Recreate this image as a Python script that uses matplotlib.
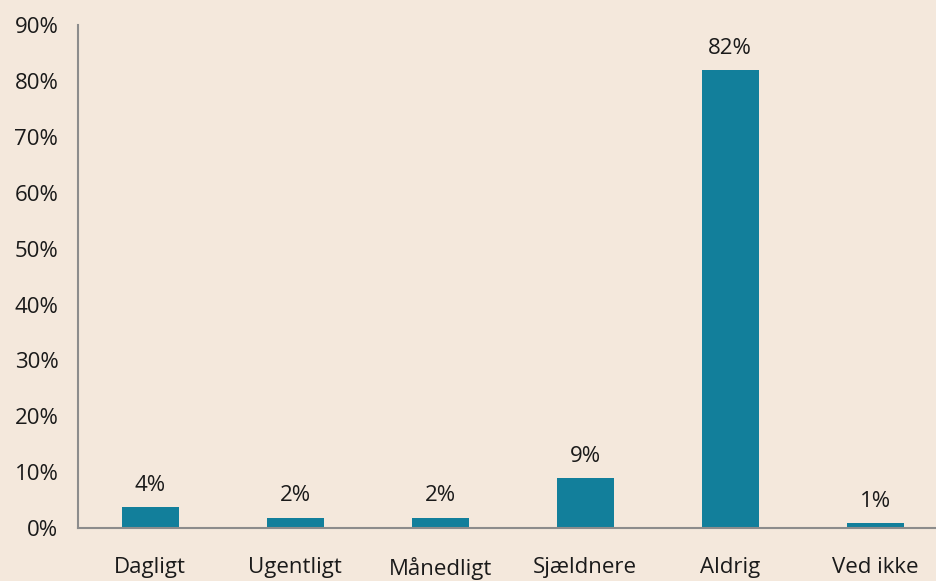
import numpy as np
import matplotlib.pyplot as plt
from matplotlib.ticker import PercentFormatter

plt.rcParams['font.family'] = ['Open Sans', 'DejaVu Sans']

# data
categories = ["Dagligt", "Ugentligt", "Månedligt", "Sjældnere", "Aldrig", "Ved ikke"]
values = [3.8, 1.9, 1.9, 9.0, 82.0, 0.9]
labels = ["4%", "2%", "2%", "9%", "82%", "1%"]

bg = "#F4E8DC"
bar_color = "#127F9B"

fig = plt.figure(figsize=(9.37, 5.81), dpi=100, facecolor=bg)
ax = fig.add_axes([0.083, 0.091, 0.9285, 0.866], facecolor=bg)

x = np.arange(len(categories))
bars = ax.bar(x, values, width=0.39, color=bar_color)

for xi, v, lab in zip(x, values, labels):
    ax.text(xi, v + 2.0, lab, ha="center", va="bottom", fontsize=16, color="#1a1a1a")

ax.set_xlim(-0.5, len(categories) - 0.5)
ax.set_ylim(0, 90)
ax.set_yticks(np.arange(0, 91, 10))
ax.yaxis.set_major_formatter(PercentFormatter(decimals=0))
ax.set_xticks(x)
ax.set_xticklabels(categories)
ax.tick_params(axis="both", length=0, labelsize=16, colors="#1a1a1a")
ax.tick_params(axis="x", pad=21)
ax.tick_params(axis="y", pad=14)

for s in ["top", "right"]:
    ax.spines[s].set_visible(False)
for s in ["left", "bottom"]:
    ax.spines[s].set_color("#8C8C8C")
    ax.spines[s].set_linewidth(1.5)

fig.savefig("out.png", dpi=100, facecolor=bg)
